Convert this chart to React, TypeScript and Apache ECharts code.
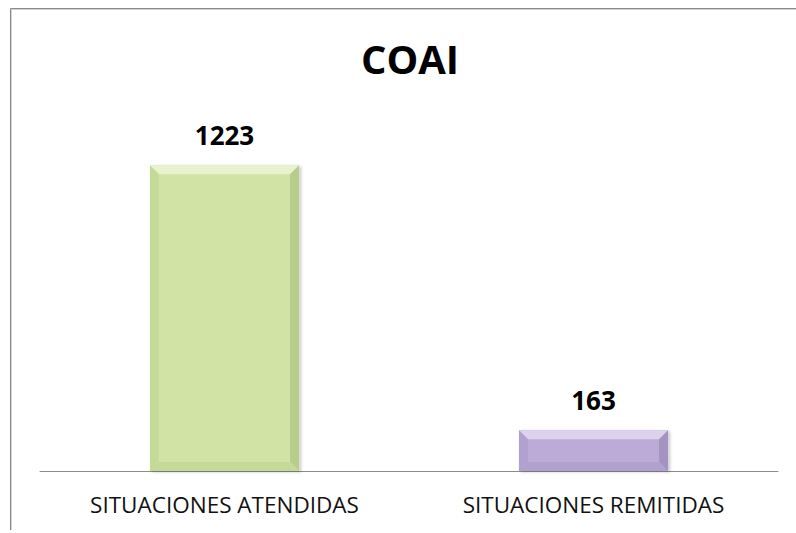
import React, { useEffect, useRef } from "react";
import * as echarts from "echarts";

const categories = ["SITUACIONES ATENDIDAS", "SITUACIONES REMITIDAS"];
const values = [1223, 163];
const titleText = "COAI";
const barColors = ["#D1E3A5", "#BBABD6"];
const lightColors = ["#E9F2CF", "#DDD2EC"];
const darkColors = ["#B8CC8C", "#A594C2"];
const midDarkColors = ["#C6DA98", "#B1A1CE"];

export default function App() {
  const ref = useRef<HTMLDivElement>(null);
  useEffect(() => {
    document.body.style.margin = "0";
    const chart = echarts.init(ref.current!, null, { renderer: "svg" });
    const bevel = 9;
    chart.setOption({
      animation: false,
      backgroundColor: "#ffffff",
      grid: { left: 40, right: 18, top: 121, bottom: 62 },
      xAxis: {
        type: "category",
        data: categories,
        axisLine: { lineStyle: { color: "#8c8c8c", width: 1 } },
        axisTick: { show: false },
        axisLabel: {
          color: "#111111",
          fontFamily: "Open Sans",
          fontSize: 22.5,
          margin: 22,
        },
      },
      yAxis: {
        type: "value",
        min: 0,
        max: 1400,
        show: false,
        splitLine: { show: false },
      },
      graphic: [
        { type: "line", shape: { x1: 10.5, y1: 8.5, x2: 800, y2: 8.5 }, style: { stroke: "#8a8a8a", lineWidth: 1 } },
        { type: "line", shape: { x1: 11, y1: 9.5, x2: 800, y2: 9.5 }, style: { stroke: "#cfcfcf", lineWidth: 1 } },
        { type: "line", shape: { x1: 10.5, y1: 8.5, x2: 10.5, y2: 530 }, style: { stroke: "#8a8a8a", lineWidth: 1 } },
        { type: "line", shape: { x1: 11.5, y1: 9.5, x2: 11.5, y2: 530 }, style: { stroke: "#d5d5d5", lineWidth: 1 } },
        {
          type: "text",
          x: 410,
          y: 58,
          style: {
            text: titleText,
            align: "center",
            verticalAlign: "middle",
            font: 'bold 40px "Open Sans"',
            fill: "#000000",
          },
        },
      ],
      series: [
        {
          type: "bar",
          data: values.map((v, i) => ({ value: v, itemStyle: { color: barColors[i] } })),
          barWidth: "40.4%",
          itemStyle: {
            shadowColor: "rgba(0,0,0,0.22)",
            shadowBlur: 3,
            shadowOffsetX: 2,
            shadowOffsetY: 1,
          },
          label: {
            show: true,
            position: "top",
            distance: 17,
            color: "#000000",
            fontFamily: "Open Sans",
            fontWeight: "bold",
            fontSize: 26,
          },
          z: 2,
        },
        {
          type: "custom",
          z: 3,
          silent: true,
          data: values.map((v, i) => [i, v]),
          encode: { x: 0, y: 1 },
          renderItem: (params: any, api: any) => {
            const idx = params.dataIndex;
            const top = api.coord([api.value(0), api.value(1)]);
            const base = api.coord([api.value(0), 0]);
            const bandW = api.size([1, 0])[0];
            const w = bandW * 0.404;
            const x0 = top[0] - w / 2;
            const x1 = top[0] + w / 2;
            const y0 = top[1];
            const y1 = base[1];
            const b = Math.min(bevel, (y1 - y0) / 3);
            return {
              type: "group",
              children: [
                {
                  type: "polygon",
                  shape: { points: [[x0, y0], [x1, y0], [x1 - b, y0 + b], [x0 + b, y0 + b]] },
                  style: { fill: lightColors[idx] },
                },
                {
                  type: "polygon",
                  shape: { points: [[x0, y0], [x0 + b, y0 + b], [x0 + b, y1 - b], [x0, y1]] },
                  style: { fill: midDarkColors[idx] },
                },
                {
                  type: "polygon",
                  shape: { points: [[x1, y0], [x1, y1], [x1 - b, y1 - b], [x1 - b, y0 + b]] },
                  style: { fill: darkColors[idx] },
                },
                {
                  type: "polygon",
                  shape: { points: [[x0, y1], [x0 + b, y1 - b], [x1 - b, y1 - b], [x1, y1]] },
                  style: { fill: midDarkColors[idx] },
                },
              ],
            };
          },
        },
      ],
    });
    return () => chart.dispose();
  }, []);
  return <div ref={ref} style={{ width: 796, height: 533 }} />;
}
